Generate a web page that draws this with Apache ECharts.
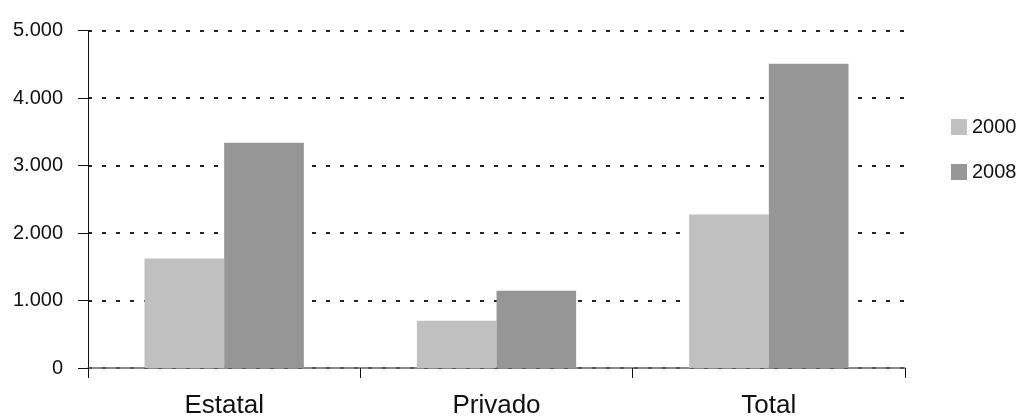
<!DOCTYPE html>
<html>
<head>
<meta charset="utf-8">
<script src="https://cdn.jsdelivr.net/npm/echarts@6/dist/echarts.min.js"></script>
<style>
html,body{margin:0;padding:0;background:#fff;}
#chart{width:1020px;height:420px;}
</style>
</head>
<body>
<div id="chart"></div>
<script>
var categories = ['Estatal', 'Privado', 'Total'];
var seriesNames = ['2000', '2008'];
var values2000 = [1625, 700, 2275];
var values2008 = [3340, 1145, 4510];
var yTicks = [0, 1000, 2000, 3000, 4000, 5000];

var chart = echarts.init(document.getElementById('chart'));
var font = 'Liberation Sans, Arial, sans-serif';
function fmt(v) {
  return String(v).replace(/\B(?=(\d{3})+(?!\d))/g, '.');
}
chart.setOption({
  animation: false,
  backgroundColor: '#ffffff',
  grid: { left: 88, right: 115, top: 30.7, bottom: 52 },
  legend: {
    orient: 'vertical',
    left: 946,
    top: 112,
    itemWidth: 16,
    itemHeight: 16,
    itemGap: 25,
    icon: 'rect',
    textStyle: { fontFamily: font, fontSize: 20, color: '#111' },
    data: seriesNames
  },
  xAxis: {
    type: 'category',
    data: categories,
    axisLine: { lineStyle: { color: '#666', width: 1.5 } },
    axisTick: { show: true, length: 10, lineStyle: { color: '#111', width: 1 } },
    axisLabel: { fontFamily: font, fontSize: 26, color: '#111', margin: 25 }
  },
  yAxis: {
    type: 'value',
    min: yTicks[0],
    max: yTicks[yTicks.length - 1],
    interval: 1000,
    axisLine: { show: true, lineStyle: { color: '#111', width: 1 } },
    axisTick: { show: true, length: 10, lineStyle: { color: '#111', width: 1 } },
    axisLabel: { fontFamily: font, fontSize: 20, color: '#111', margin: 25, formatter: fmt },
    splitLine: { show: true, lineStyle: { color: '#222', width: 2, type: [4, 10] } }
  },
  series: [
    {
      name: seriesNames[0], type: 'bar', data: values2000,
      itemStyle: { color: '#c0c0c0' },
      barGap: '0%', barCategoryGap: '41.5%'
    },
    {
      name: seriesNames[1], type: 'bar', data: values2008,
      itemStyle: { color: '#969696' },
      barGap: '0%', barCategoryGap: '41.5%'
    }
  ]
});
</script>
</body>
</html>
